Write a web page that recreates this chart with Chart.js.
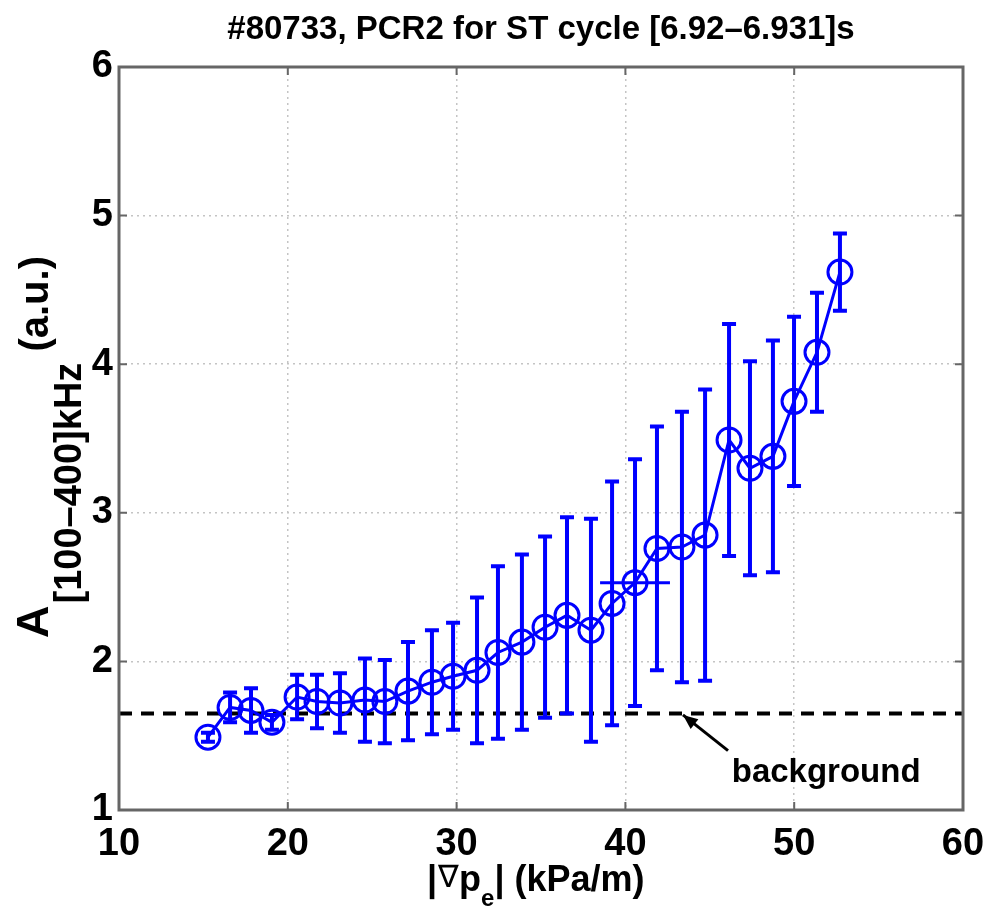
<!DOCTYPE html>
<html>
<head>
<meta charset="utf-8">
<title>#80733 PCR2</title>
<script src="https://cdn.jsdelivr.net/npm/chart.js@4.4.0/dist/chart.umd.min.js"></script>
<style>
    html, body { margin: 0; padding: 0; background: #fff; }
    #wrap { width: 985px; height: 909px; }
</style>
</head>
<body>
<div id="wrap"><canvas id="chart" width="985" height="909"></canvas></div>
<script>
// data
const gradPe = [15.27, 16.58, 17.82, 19.06, 20.55, 21.73, 23.09, 24.57, 25.75, 27.12,
    28.54, 29.79, 31.21, 32.45, 33.87, 35.24, 36.54, 37.96, 39.21, 40.57,
    41.87, 43.35, 44.72, 46.14, 47.38, 48.74, 49.99, 51.35, 52.71];
const amplitude = [1.49, 1.69, 1.67, 1.59, 1.76, 1.73, 1.72, 1.74, 1.73, 1.80,
    1.86, 1.90, 1.94, 2.06, 2.13, 2.23, 2.31, 2.21, 2.39, 2.53,
    2.76, 2.77, 2.85, 3.49, 3.30, 3.38, 3.75, 4.08, 4.62];
const ampError = [0.03, 0.10, 0.15, 0.05, 0.15, 0.18, 0.20, 0.28, 0.28, 0.33,
    0.35, 0.36, 0.49, 0.58, 0.59, 0.61, 0.66, 0.75, 0.82, 0.83,
    0.82, 0.91, 0.98, 0.78, 0.72, 0.78, 0.57, 0.40, 0.26];
// only one point carries a horizontal error bar
const gradError = [0, 0, 0, 0, 0, 0, 0, 0, 0, 0,
    0, 0, 0, 0, 0, 0, 0, 0, 0, 2.07,
    0, 0, 0, 0, 0, 0, 0, 0, 0];
const backgroundLevel = 1.65;
const xRange = [10, 60];
const xTicks = [10, 20, 30, 40, 50, 60];
const yTicks = [1, 2, 3, 4, 5, 6];

const FONT = "'Liberation Sans', Arial, Helvetica, sans-serif";
const BLUE = '#0000ff';
const FRAME = '#666666';

const mainPoints = gradPe.map((x, i) => ({ x: x, y: amplitude[i] }));
const bgPoints = xRange.map(x => ({ x: x, y: backgroundLevel }));

// error bars, drawn with the chart's own scales
const errorBars = {
    id: 'errorBars',
    afterDatasetsDraw(chart) {
        const ctx = chart.ctx;
        const xs = chart.scales.x, ys = chart.scales.y;
        ctx.save();
        ctx.strokeStyle = BLUE;
        ctx.lineCap = 'butt';
        gradPe.forEach((x, i) => {
            const px = xs.getPixelForValue(x);
            const top = ys.getPixelForValue(amplitude[i] + ampError[i]);
            const bot = ys.getPixelForValue(amplitude[i] - ampError[i]);
            ctx.lineWidth = 4;
            ctx.beginPath();
            ctx.moveTo(px, top); ctx.lineTo(px, bot);
            ctx.moveTo(px - 7, top); ctx.lineTo(px + 7, top);
            ctx.moveTo(px - 7, bot); ctx.lineTo(px + 7, bot);
            ctx.stroke();
            if (gradError[i] > 0) {
                const py = ys.getPixelForValue(amplitude[i]);
                ctx.lineWidth = 3;
                ctx.beginPath();
                ctx.moveTo(xs.getPixelForValue(x - gradError[i]), py);
                ctx.lineTo(xs.getPixelForValue(x + gradError[i]), py);
                ctx.stroke();
            }
        });
        ctx.restore();
    }
};

// box, inward ticks, title, axis labels and the annotation
const decorations = {
    id: 'decorations',
    afterDraw(chart) {
        const ctx = chart.ctx;
        const a = chart.chartArea;
        const xs = chart.scales.x, ys = chart.scales.y;
        ctx.save();

        // frame
        ctx.strokeStyle = FRAME;
        ctx.lineWidth = 3;
        ctx.strokeRect(a.left, a.top, a.right - a.left, a.bottom - a.top);

        // inward tick marks
        ctx.lineWidth = 2;
        ctx.beginPath();
        xTicks.forEach(t => {
            const px = xs.getPixelForValue(t);
            ctx.moveTo(px, a.bottom); ctx.lineTo(px, a.bottom - 8);
            ctx.moveTo(px, a.top); ctx.lineTo(px, a.top + 8);
        });
        yTicks.forEach(t => {
            const py = ys.getPixelForValue(t);
            ctx.moveTo(a.left, py); ctx.lineTo(a.left + 8, py);
            ctx.moveTo(a.right, py); ctx.lineTo(a.right - 8, py);
        });
        ctx.stroke();

        ctx.fillStyle = '#000';

        // title
        ctx.font = 'bold 33px ' + FONT;
        ctx.textAlign = 'center';
        ctx.textBaseline = 'alphabetic';
        ctx.fillText('#80733, PCR2 for ST cycle [6.92\u20136.931]s', (a.left + a.right) / 2, 39);

        // x axis label with subscript
        ctx.textAlign = 'left';
        let x = 427;
        const xBase = 891;
        ctx.font = 'bold 36px ' + FONT;
        ctx.fillText('|', x, xBase); x += ctx.measureText('|').width + 1;
        ctx.font = '31px ' + FONT;
        ctx.fillText('\u2207', x, xBase - 4); x += ctx.measureText('\u2207').width;
        ctx.font = 'bold 36px ' + FONT;
        ctx.fillText('p', x, xBase); x += ctx.measureText('p').width;
        ctx.font = 'bold 24px ' + FONT;
        ctx.fillText('e', x, xBase + 15); x += ctx.measureText('e').width;
        ctx.font = 'bold 36px ' + FONT;
        ctx.fillText('| (kPa/m)', x, xBase);

        // y axis label, rotated, with subscript
        ctx.save();
        ctx.translate(48, 638);
        ctx.rotate(-Math.PI / 2);
        let y = 0;
        ctx.font = 'bold 45px ' + FONT;
        ctx.fillText('A', y, 0); y += ctx.measureText('A').width + 2;
        ctx.font = 'bold 38px ' + FONT;
        ctx.fillText('[100\u2013400]kHz', y, 33); y += ctx.measureText('[100\u2013400]kHz').width;
        ctx.font = 'bold 40px ' + FONT;
        ctx.fillText(' (a.u.)', y, 0);
        ctx.restore();

        // "background" annotation with arrow
        const tailX = xs.getPixelForValue(46.08), tailY = ys.getPixelForValue(1.40);
        const headX = xs.getPixelForValue(43.41), headY = ys.getPixelForValue(1.64);
        ctx.strokeStyle = '#000';
        ctx.lineWidth = 3;
        ctx.beginPath();
        ctx.moveTo(tailX, tailY); ctx.lineTo(headX, headY);
        ctx.stroke();
        const ang = Math.atan2(headY - tailY, headX - tailX);
        ctx.beginPath();
        ctx.moveTo(headX, headY);
        ctx.lineTo(headX - 16 * Math.cos(ang - 0.4), headY - 16 * Math.sin(ang - 0.4));
        ctx.lineTo(headX - 16 * Math.cos(ang + 0.4), headY - 16 * Math.sin(ang + 0.4));
        ctx.closePath();
        ctx.fill();
        ctx.font = 'bold 33px ' + FONT;
        ctx.fillText('background', xs.getPixelForValue(46.3), ys.getPixelForValue(1.19));

        ctx.restore();
    }
};

new Chart(document.getElementById('chart'), {
    type: 'scatter',
    data: {
        datasets: [{
            label: 'A [100-400] kHz',
            data: mainPoints,
            showLine: true,
            borderColor: BLUE,
            borderWidth: 3,
            pointRadius: 12,
            pointBorderWidth: 3,
            pointBorderColor: BLUE,
            pointBackgroundColor: 'rgba(0,0,0,0)',
            pointStyle: 'circle',
            tension: 0
        }, {
            label: 'background',
            data: bgPoints,
            showLine: true,
            borderColor: '#000',
            borderWidth: 4,
            borderDash: [13, 9],
            pointRadius: 0
        }]
    },
    options: {
        responsive: false,
        animation: false,
        layout: { padding: { top: 67, right: 22, left: 0, bottom: 0 } },
        plugins: {
            legend: { display: false },
            tooltip: { enabled: false }
        },
        scales: {
            x: {
                type: 'linear',
                min: xRange[0],
                max: xRange[1],
                afterFit: s => { s.height = 99; s.paddingLeft = 0; s.paddingRight = 0; },
                afterBuildTicks: s => { s.ticks = xTicks.map(v => ({ value: v })); },
                grid: {
                    color: '#c4c4c4',
                    lineWidth: 1.5,
                    drawTicks: false
                },
                border: { display: false, dash: [2, 4] },
                ticks: {
                    color: '#000',
                    padding: 12,
                    maxRotation: 0,
                    font: { family: FONT, size: 38, weight: 'bold' }
                }
            },
            y: {
                type: 'linear',
                min: 1,
                max: 6,
                afterFit: s => { s.width = 119; s.paddingTop = 0; s.paddingBottom = 0; },
                afterBuildTicks: s => { s.ticks = yTicks.map(v => ({ value: v })); },
                grid: {
                    color: '#c4c4c4',
                    lineWidth: 1.5,
                    drawTicks: false
                },
                border: { display: false, dash: [2, 4] },
                ticks: {
                    color: '#000',
                    padding: 6,
                    font: { family: FONT, size: 38, weight: 'bold' }
                }
            }
        }
    },
    plugins: [errorBars, decorations]
});
</script>
</body>
</html>
